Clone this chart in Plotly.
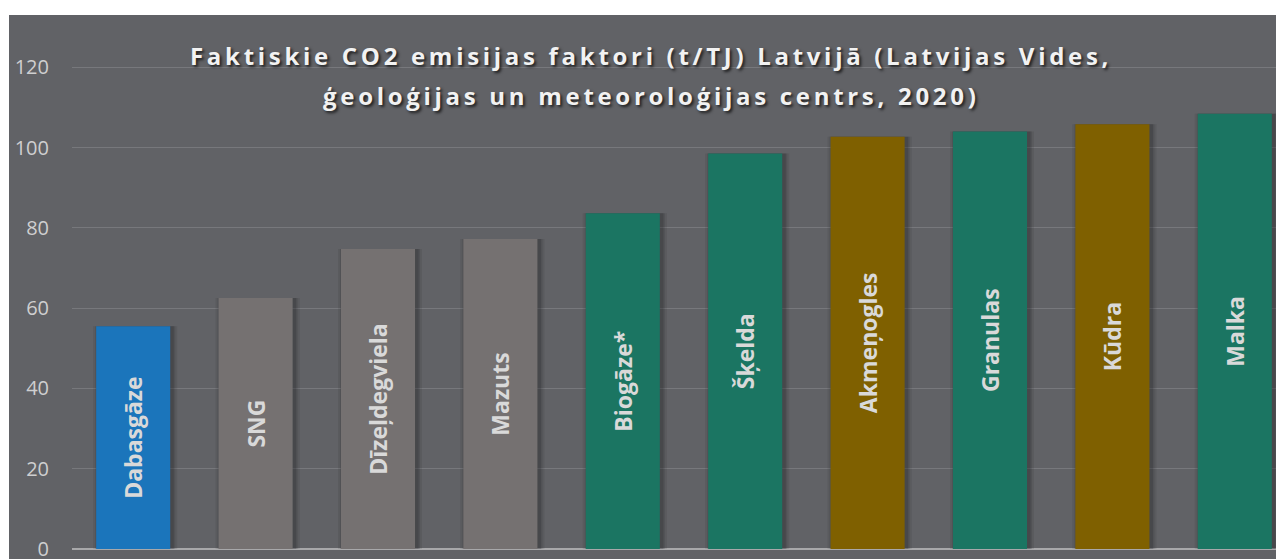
import plotly.graph_objects as go

# CO2 emission factors, t/TJ
categories = ["Dabasgāze", "SNG", "Dīzeļdegviela", "Mazuts", "Biogāze*",
              "Šķelda", "Akmeņogles", "Granulas", "Kūdra", "Malka"]
values = [55.5, 62.5, 74.7, 77.2, 83.6, 98.5, 102.7, 104.0, 105.8, 108.4]
bar_colors = ["#1B75BB", "#757171", "#757171", "#757171", "#1B7562",
              "#1B7562", "#7F6000", "#1B7562", "#7F6000", "#1B7562"]
title_lines = ["Faktiskie CO2 emisijas faktori (t/TJ) Latvijā (Latvijas Vides,",
               "ģeoloģijas un meteoroloģijas centrs, 2020)"]
y_ticks = [0, 20, 40, 60, 80, 100, 120]

bg = "#616266"
L, T, B = 64, 7, 18          # plot margins (px)
PW, PH = 1284 - L, 559 - T - B
step = 122.4                 # px per category
bw = 0.605                   # bar width in category units
xs = list(range(len(categories)))

fig = go.Figure()

# soft drop shadow behind the bars
for k, a in [(5, 0.10), (3, 0.14), (1.5, 0.18)]:
    fig.add_trace(go.Bar(
        x=xs, y=values, width=bw + 2 * k / step, offset=-bw / 2 - k / step + 2 / step,
        marker=dict(color="rgba(30,30,32,%s)" % a, line=dict(width=0)),
        hoverinfo="skip",
    ))

fig.add_trace(go.Bar(
    x=xs, y=values, width=bw, offset=-bw / 2,
    marker=dict(color=bar_colors, line=dict(width=0)),
    text=categories,
    textposition="inside",
    insidetextanchor="middle",
    textangle=-90,
    insidetextfont=dict(family="Open Sans", size=23, color="#D9D9D9", weight="bold"),
    hoverinfo="skip",
))

# gray chart area, leaving a thin white strip at the top and left
fig.add_shape(type="rect", xref="paper", yref="paper",
              x0=(1 - L) / PW, x1=1.0, y0=-B / PH, y1=1.0,
              fillcolor=bg, line=dict(width=0), layer="below")

for i, line in enumerate(title_lines):
    fig.add_annotation(
        text='<span style="letter-spacing:3.7px">' + line + "</span>",
        xref="paper", yref="paper",
        x=(643 - L) / PW, y=(PH + T - [48, 87][i]) / PH,
        xanchor="center", yanchor="middle", showarrow=False,
        font=dict(family="Open Sans", size=24, color="#F2F2F2", weight="bold",
                  shadow="2px 2px 3px rgba(0,0,0,0.7)"),
    )

fig.update_layout(
    width=1284, height=559,
    margin=dict(l=L, r=0, t=T, b=B),
    paper_bgcolor="white",
    plot_bgcolor=bg,
    barmode="overlay",
    showlegend=False,
    xaxis=dict(range=[-0.5, -0.5 + PW / step], showticklabels=False, showgrid=False,
               zeroline=False, showline=False, fixedrange=True),
    yaxis=dict(range=[0, 133], tickvals=y_ticks, showgrid=True,
               gridcolor="#77787C", gridwidth=1,
               zeroline=True, zerolinecolor="#A8A8AA", zerolinewidth=2,
               ticklabelstandoff=22,
               tickfont=dict(family="Open Sans", size=20, color="#CFCFD0")),
)

fig.write_html("out.html")
